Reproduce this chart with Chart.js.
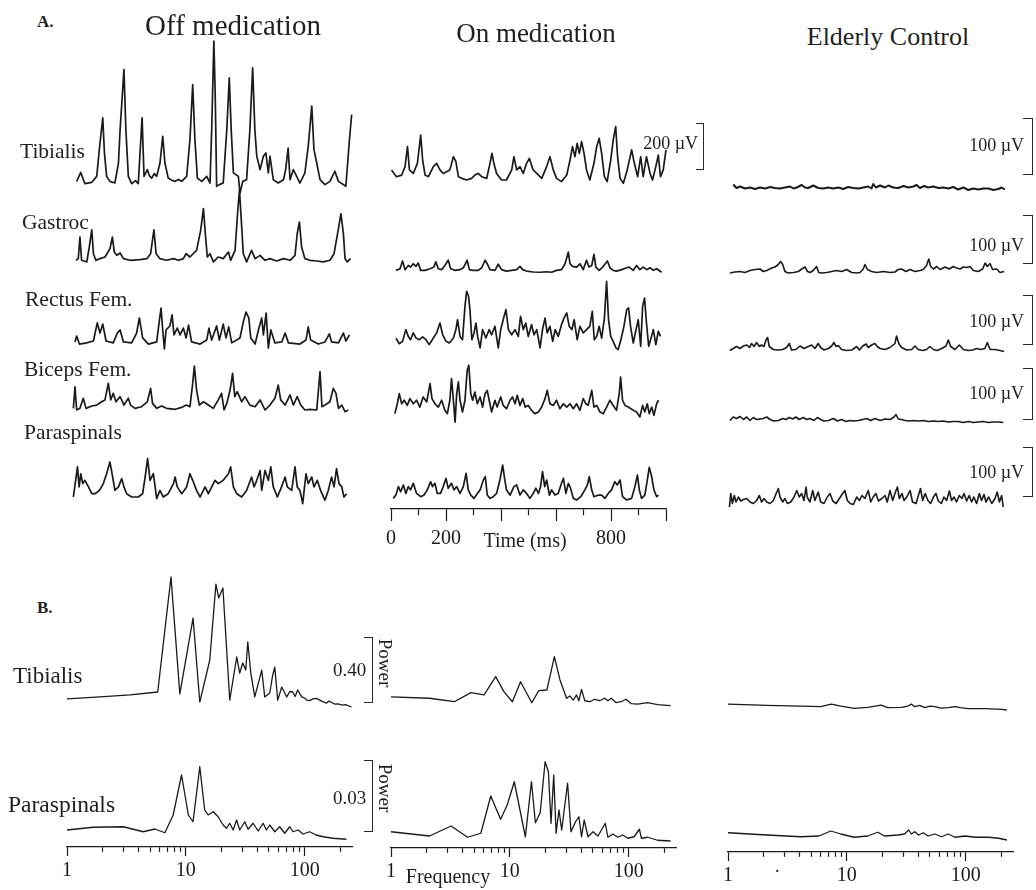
<!DOCTYPE html>
<html>
<head>
<meta charset="utf-8">
<script src="https://cdn.jsdelivr.net/npm/chart.js@4.4.1/dist/chart.umd.min.js"></script>
<style>
  html, body { margin: 0; padding: 0; background: #fff; }
  #fig { position: relative; width: 1036px; height: 890px; overflow: hidden;
         font-family: 'Liberation Serif', 'DejaVu Serif', serif; color: #1f1f1f; }
  #fig canvas { position: absolute; }
  .txt { position: absolute; white-space: nowrap; line-height: 1; }
  .brk { position: absolute; border: 1.3px solid #2a2a2a; border-left: none; box-sizing: border-box; }
</style>
</head>
<body>
<div id="fig"></div>
<script>
// ── DATA ── (time in ms, EMG in µV; frequency in Hz, power in arbitrary units)

const conditions = ['Off medication', 'On medication', 'Elderly Control'];
const muscles = ['Tibialis', 'Gastroc', 'Rectus Fem.', 'Biceps Fem.', 'Paraspinals'];
const spectrumMuscles = ['Tibialis', 'Paraspinals'];

const timeTicksMs = [0, 100, 200, 300, 400, 500, 600, 700, 800, 900, 1000];
const timeMajorMs = [0, 200, 400, 600, 800, 1000];
const timeTickLabels = ['0', '', '200', '', '', '', '', '', '800', '', ''];

const freqTicksHz = [1, 2, 3, 4, 5, 6, 7, 8, 9, 10, 20, 30, 40, 50, 60, 70, 80, 90, 100, 200];
const freqMajorHz = [1, 10, 100];
const freqTickLabels = ['1', '', '', '', '', '', '', '', '', '10', '', '', '', '', '', '', '', '', '100', ''];

// Off medication (ms, µV)
const offTibialis = [[6,7],[21,45],[36,-3],[61,3],[79,28],[89,149],[101,277],[107,128],[115,28],[127,7],[145,0],[158,85],[164,227],[178,483],[185,227],[194,28],[206,-3],[220,10],[230,-3],[244,277],[251,28],[263,57],[271,30],[279,21],[288,40],[297,28],[309,85],[319,199],[327,85],[339,21],[352,12],[364,7],[376,15],[388,7],[406,28],[418,185],[428,419],[436,185],[445,21],[461,7],[479,28],[491,0],[497,227],[505,604],[510,369],[515,-14],[525,-7],[539,0],[552,227],[561,447],[568,227],[576,43],[594,28],[600,-43],[610,7],[624,14],[636,227],[646,490],[654,227],[661,114],[673,57],[685,114],[694,128],[703,43],[709,114],[721,14],[739,0],[758,14],[766,57],[775,149],[782,14],[794,57],[806,28],[818,0],[836,43],[848,156],[861,327],[869,142],[879,85],[891,14],[909,-7],[927,7],[945,50],[958,7],[985,-14],[998,185],[1006,291],[1010,156]];
const offGastroc = [[4,3],[12,10],[18,102],[24,3],[43,-4],[52,60],[61,133],[67,31],[76,3],[91,10],[109,17],[127,52],[136,102],[143,38],[152,24],[164,34],[176,10],[200,3],[236,6],[261,10],[275,31],[287,133],[295,31],[309,10],[333,3],[358,10],[376,3],[394,10],[404,31],[418,17],[442,45],[457,130],[467,223],[474,116],[481,17],[491,31],[503,-4],[521,17],[539,10],[558,38],[566,3],[582,45],[592,216],[598,301],[604,187],[612,31],[624,-4],[642,45],[655,10],[673,24],[691,3],[709,10],[733,0],[758,10],[782,3],[800,24],[808,116],[816,166],[824,60],[836,10],[854,3],[879,0],[903,-4],[927,3],[942,31],[958,138],[967,201],[976,116],[982,10],[990,-4],[1002,10]];
const offRectusFem = [[0,13],[6,38],[16,4],[42,9],[67,17],[81,94],[91,51],[101,89],[113,17],[139,9],[154,51],[164,64],[176,13],[206,9],[224,51],[234,115],[246,30],[267,4],[297,13],[307,106],[313,157],[319,64],[325,-17],[331,64],[345,81],[353,128],[360,43],[372,72],[382,43],[394,72],[404,30],[413,85],[424,13],[455,4],[479,21],[487,72],[497,21],[515,81],[525,21],[539,89],[549,30],[559,77],[570,9],[600,30],[612,98],[622,140],[632,115],[639,30],[655,4],[667,64],[679,115],[685,43],[695,136],[703,-13],[712,64],[727,9],[752,13],[764,51],[776,9],[818,4],[840,21],[848,77],[857,21],[885,4],[909,13],[925,47],[933,13],[958,9],[976,51],[985,17],[998,43]];
const offBicepsFem = [[-6,7],[0,99],[6,0],[18,7],[30,50],[40,7],[61,17],[79,21],[97,35],[109,43],[121,113],[130,43],[139,71],[149,35],[164,57],[178,21],[194,50],[202,21],[218,7],[242,14],[263,35],[275,92],[282,28],[297,7],[315,17],[333,7],[364,3],[388,11],[404,21],[418,14],[428,113],[434,187],[442,85],[452,21],[467,35],[485,21],[503,7],[521,43],[533,71],[542,0],[552,28],[564,85],[573,156],[581,57],[590,78],[606,35],[618,57],[636,21],[655,14],[673,43],[691,0],[709,21],[727,50],[739,106],[748,43],[764,21],[782,64],[794,21],[808,57],[821,21],[836,0],[854,3],[879,0],[891,163],[898,14],[909,21],[927,35],[939,92],[949,71],[958,7],[970,21],[982,-7],[994,0]];
const offParaspinals = [[-6,0],[4,85],[9,128],[15,43],[21,99],[28,57],[36,71],[49,43],[61,14],[73,14],[89,28],[103,57],[115,99],[127,149],[137,85],[145,28],[158,43],[170,78],[178,43],[188,14],[206,0],[230,0],[246,14],[255,85],[264,163],[273,71],[285,99],[297,-7],[309,28],[321,0],[339,14],[358,57],[364,85],[372,43],[388,14],[406,43],[418,99],[428,71],[442,28],[455,0],[473,43],[485,14],[497,43],[509,71],[521,57],[539,71],[558,99],[566,128],[576,43],[588,14],[606,0],[624,28],[642,85],[651,43],[661,71],[673,113],[679,28],[691,113],[703,71],[712,128],[721,43],[736,0],[751,43],[764,85],[772,43],[788,28],[800,128],[808,43],[818,28],[828,-28],[840,99],[848,57],[861,85],[869,43],[881,71],[893,28],[909,-14],[921,28],[933,85],[942,43],[951,121],[960,57],[970,43],[978,0],[988,14]];

// On medication (ms, µV)
const onTibialis = [[2,43],[11,28],[20,14],[39,21],[51,57],[60,142],[67,43],[81,28],[96,71],[108,191],[115,85],[124,21],[136,14],[154,57],[166,71],[178,43],[190,28],[214,43],[227,99],[236,78],[245,14],[257,7],[275,0],[293,7],[305,21],[317,28],[330,14],[348,7],[360,71],[367,113],[374,71],[384,28],[402,0],[420,0],[439,43],[447,99],[457,43],[469,57],[481,28],[493,71],[503,92],[517,43],[530,28],[548,7],[566,57],[578,99],[590,43],[602,7],[620,-7],[639,21],[651,85],[660,142],[669,99],[677,156],[685,113],[693,163],[702,113],[711,43],[723,0],[738,71],[748,142],[757,177],[766,113],[776,14],[786,-7],[799,85],[808,170],[817,227],[824,99],[833,7],[845,-14],[859,43],[875,128],[885,71],[897,14],[908,99],[917,14],[929,99],[942,28],[951,0],[963,57],[972,106],[980,14],[990,43],[1000,128],[1005,28]];
const onGastroc = [[18,7],[33,14],[42,47],[51,10],[63,28],[71,21],[81,35],[91,24],[99,38],[108,7],[124,7],[142,14],[156,21],[163,43],[172,14],[184,10],[196,28],[208,50],[217,14],[233,7],[251,10],[263,18],[277,50],[285,10],[299,7],[317,7],[330,18],[342,50],[350,35],[360,10],[378,7],[390,33],[402,10],[420,4],[439,7],[457,10],[469,24],[479,10],[493,4],[517,0],[542,-1],[566,1],[584,-1],[602,7],[620,10],[633,35],[645,85],[651,35],[660,24],[675,21],[687,35],[699,10],[711,50],[720,21],[730,28],[738,75],[745,21],[757,7],[770,21],[787,47],[796,18],[808,7],[820,4],[839,10],[857,18],[866,21],[881,7],[893,28],[905,10],[917,21],[930,10],[942,18],[954,7],[966,14],[984,-1]];
const onRectusFem = [[18,21],[30,-3],[42,7],[54,57],[63,28],[71,14],[81,43],[91,21],[103,14],[115,26],[127,14],[139,-7],[154,21],[166,43],[178,85],[188,35],[200,7],[212,0],[227,21],[236,57],[242,99],[251,28],[260,14],[269,156],[275,220],[282,199],[287,142],[294,14],[302,43],[309,85],[315,28],[324,-21],[333,57],[345,21],[357,57],[366,35],[378,71],[390,-21],[399,57],[411,113],[418,142],[427,57],[439,35],[451,57],[463,28],[471,113],[481,57],[490,85],[499,28],[511,78],[520,35],[530,57],[542,-21],[551,57],[560,106],[568,43],[578,71],[588,7],[597,57],[608,28],[620,78],[629,106],[639,128],[648,71],[658,57],[666,99],[677,14],[687,71],[699,43],[711,57],[723,71],[732,135],[739,14],[748,28],[757,71],[766,21],[776,106],[784,262],[791,99],[799,28],[808,7],[818,-21],[826,-28],[836,14],[847,71],[857,142],[864,149],[871,71],[881,0],[891,57],[899,99],[908,-14],[915,156],[922,191],[929,85],[937,-14],[944,14],[954,57],[963,-7],[972,50],[980,28]];
const onBicepsFem = [[14,-7],[23,35],[30,78],[39,35],[48,50],[59,28],[69,57],[81,35],[93,50],[105,21],[117,64],[130,43],[142,121],[149,57],[160,35],[172,21],[184,50],[196,7],[205,-7],[214,50],[220,142],[226,64],[233,-43],[239,78],[245,128],[251,50],[260,0],[269,50],[277,177],[283,199],[290,78],[297,50],[305,85],[314,35],[324,64],[333,21],[342,78],[350,92],[357,50],[366,0],[378,50],[386,21],[399,64],[408,28],[420,14],[433,50],[442,64],[451,35],[459,71],[469,28],[479,57],[488,21],[499,28],[511,7],[523,-7],[536,0],[548,21],[560,57],[568,92],[578,35],[590,28],[602,50],[614,14],[627,35],[639,21],[651,35],[663,14],[675,35],[687,7],[699,57],[709,35],[717,28],[730,92],[738,21],[748,28],[760,0],[772,-7],[784,21],[796,50],[808,28],[820,7],[830,78],[835,149],[842,50],[851,28],[863,21],[881,7],[893,0],[905,-21],[915,28],[923,0],[932,35],[939,-7],[948,21],[956,-14],[966,35],[973,50]];
const onParaspinals = [[8,7],[18,21],[27,57],[35,35],[45,64],[54,28],[63,57],[71,43],[81,71],[93,28],[108,14],[120,21],[132,43],[144,78],[151,57],[160,71],[168,28],[180,28],[190,57],[200,92],[208,50],[220,71],[229,43],[239,57],[251,28],[263,57],[273,113],[281,43],[290,21],[302,7],[314,28],[324,43],[336,85],[343,99],[350,21],[360,7],[372,14],[384,28],[396,85],[406,149],[414,85],[420,43],[433,21],[447,57],[457,64],[469,21],[481,43],[493,28],[505,7],[517,28],[527,50],[536,28],[544,57],[551,121],[559,57],[566,85],[576,21],[584,43],[596,21],[608,28],[620,71],[627,92],[636,28],[645,71],[653,50],[663,7],[675,0],[690,14],[705,43],[714,64],[721,99],[730,43],[738,14],[754,21],[766,21],[778,7],[790,28],[802,43],[814,78],[823,64],[833,85],[842,14],[857,0],[875,7],[887,57],[896,106],[903,43],[911,7],[923,21],[932,85],[939,139],[948,99],[956,43],[966,14],[973,21]];

// Elderly control (ms, µV)
const eldTibialis = [[19,7],[31,0],[44,3],[62,-1],[80,1],[98,-2],[116,1],[135,-1],[153,2],[171,0],[189,-1],[207,1],[226,3],[238,-1],[250,1],[268,6],[280,1],[292,0],[310,5],[328,0],[347,-1],[365,1],[383,-1],[401,1],[419,-2],[437,2],[456,0],[474,-1],[492,1],[510,3],[522,-1],[528,8],[538,1],[553,5],[571,1],[583,5],[601,1],[619,0],[638,4],[656,1],[674,3],[686,6],[698,0],[713,4],[728,1],[747,3],[765,0],[783,1],[801,-1],[819,2],[837,-3],[856,1],[874,-4],[892,-1],[910,-3],[928,-1],[947,-1],[965,-4],[983,-2],[995,1],[1007,-3]];
const eldGastroc = [[7,0],[25,2],[44,3],[62,1],[80,5],[98,7],[116,8],[128,3],[141,5],[159,10],[171,12],[183,17],[191,23],[199,17],[207,3],[219,0],[238,1],[256,3],[268,8],[280,12],[289,3],[298,1],[310,5],[322,13],[330,1],[341,0],[359,1],[377,3],[395,5],[413,3],[431,7],[450,1],[468,0],[480,1],[492,8],[498,17],[507,7],[522,3],[541,1],[565,3],[589,1],[607,2],[619,7],[631,8],[647,3],[662,7],[680,3],[698,5],[710,7],[722,15],[730,28],[737,13],[747,8],[759,13],[771,7],[789,12],[805,8],[819,13],[831,10],[844,8],[856,12],[868,11],[880,13],[892,5],[910,3],[926,8],[935,20],[943,13],[953,19],[962,7],[977,8],[989,1],[1004,3]];
const eldRectusFem = [[7,-1],[19,3],[31,7],[44,3],[56,8],[68,10],[78,5],[86,13],[95,7],[104,15],[114,7],[122,10],[131,7],[138,20],[144,25],[150,7],[165,1],[183,0],[199,1],[213,5],[223,13],[231,0],[247,1],[262,8],[276,3],[292,7],[304,10],[316,3],[328,13],[337,5],[349,0],[365,3],[377,8],[385,15],[393,7],[401,9],[413,1],[431,-1],[450,0],[468,7],[478,0],[490,8],[502,12],[510,5],[522,10],[534,13],[543,7],[553,3],[571,1],[589,5],[607,13],[613,28],[621,13],[631,5],[650,0],[668,1],[680,8],[692,1],[708,-1],[722,1],[734,7],[747,1],[761,-1],[777,3],[793,8],[801,20],[810,7],[825,1],[841,10],[856,1],[874,-1],[890,0],[904,3],[919,1],[934,3],[943,15],[953,1],[971,1],[989,-1],[1004,-3]];
const eldBicepsFem = [[7,1],[19,8],[31,5],[44,9],[56,3],[68,8],[80,1],[92,7],[104,3],[116,4],[128,5],[141,8],[153,3],[167,0],[183,1],[199,5],[211,3],[223,7],[235,4],[247,8],[259,3],[274,7],[286,3],[298,5],[313,1],[325,7],[337,3],[349,0],[365,1],[383,5],[398,0],[413,3],[429,-1],[444,1],[458,0],[474,1],[490,3],[504,5],[519,1],[535,5],[553,1],[571,4],[589,3],[604,8],[611,13],[619,4],[631,3],[644,1],[659,0],[674,1],[692,0],[710,1],[728,-1],[747,0],[765,-1],[783,0],[801,-2],[819,-1],[837,-1],[856,-3],[874,-1],[892,-3],[910,-2],[928,-1],[947,-3],[965,-2],[983,-2],[1001,-3]];
const eldParaspinals = [[5,0],[10,27],[16,7],[23,23],[29,10],[38,20],[46,12],[56,15],[68,17],[80,10],[92,7],[104,13],[114,23],[122,10],[131,17],[141,10],[153,7],[165,13],[175,27],[183,37],[189,20],[199,10],[207,17],[216,7],[228,10],[240,20],[250,33],[259,20],[268,27],[276,13],[284,40],[288,20],[298,10],[308,33],[316,13],[328,30],[337,10],[349,7],[361,20],[371,27],[381,12],[393,7],[405,17],[417,27],[425,33],[434,13],[444,7],[456,5],[468,20],[478,13],[487,23],[498,17],[510,33],[519,10],[528,20],[538,27],[547,12],[559,17],[571,23],[579,10],[589,33],[599,13],[607,27],[616,40],[623,17],[633,27],[640,13],[650,20],[662,33],[671,10],[684,7],[692,23],[700,37],[708,13],[717,27],[727,13],[737,7],[747,20],[756,27],[765,12],[776,7],[785,20],[795,13],[805,32],[813,13],[822,20],[831,10],[841,23],[851,17],[858,27],[868,12],[877,23],[886,10],[894,20],[904,7],[914,27],[922,13],[931,25],[938,10],[948,20],[959,7],[971,17],[979,30],[987,10],[995,23],[1001,0]];

// Power spectra (Hz, power)
const offTibialisPower = [[1,0.055],[1.9,0.067],[3.4,0.079],[5.8,0.097],[7.5,0.794],[8.9,0.085],[11.5,0.545],[13.1,0.036],[15.9,0.291],[17.9,0.751],[18.9,0.667],[20.5,0.727],[23.4,0.048],[26.8,0.309],[28.4,0.212],[30.1,0.273],[31.9,0.23],[33.2,0.4],[35.2,0.212],[38,0.067],[43.5,0.23],[46.1,0.067],[50.8,0.091],[53.8,0.2],[56,0.248],[59.3,0.048],[64.1,0.127],[70.6,0.067],[75,0.1],[79.3,0.097],[83,0.07],[87.3,0.109],[94.4,0.067],[100,0.06],[104,0.048],[110,0.045],[117,0.055],[125,0.058],[134,0.048],[140,0.04],[153,0.03],[160,0.042],[179,0.024],[190,0.025],[208,0.018],[220,0.02],[248,0.006]];
const offParaspinalsPower = [[1,0.0052],[1.66,0.0063],[2.97,0.0065],[4.38,0.0045],[5.49,0.0056],[6.66,0.0041],[7.82,0.0112],[9.2,0.0272],[10.5,0.0112],[11.5,0.0085],[13.1,0.0305],[14.4,0.0132],[15.4,0.0112],[17,0.0125],[18.7,0.0105],[20.6,0.0072],[22,0.0059],[23.4,0.0079],[25,0.0052],[26.7,0.0092],[28.4,0.0052],[31.3,0.0085],[33.4,0.0055],[36.8,0.0079],[40.6,0.0048],[44.7,0.0079],[47.6,0.0052],[50.8,0.0072],[56,0.0045],[61.6,0.0065],[67.9,0.0039],[74.8,0.0065],[79.8,0.0045],[87.9,0.0052],[96.8,0.0036],[110,0.0045],[125,0.0032],[143,0.0025],[173,0.0019],[224,0.0015]];
const onTibialisPower = [[1,0.068],[2.11,0.059],[3.41,0.038],[4.7,0.093],[6.07,0.079],[7.6,0.19],[8.91,0.099],[10.5,0.038],[12.3,0.159],[15.3,0.032],[17.5,0.105],[20.5,0.109],[23.7,0.311],[26.4,0.17],[30,0.059],[32,0.073],[34.1,0.048],[36.4,0.079],[38.1,0.044],[40.1,0.113],[42.7,0.044],[47,0.038],[51.8,0.053],[57,0.044],[62.7,0.059],[66.8,0.044],[71.2,0.059],[78.4,0.032],[86.3,0.038],[95,0.053],[105,0.026],[119,0.024],[144,0.032],[175,0.02],[225,0.014]];
const onParaspinalsPower = [[1,0.0045],[2.11,0.0028],[3.2,0.0068],[4.41,0.0023],[5.7,0.0039],[6.91,0.0188],[8.36,0.0095],[9.5,0.0152],[10.9,0.0245],[13.5,0.0025],[15.2,0.0245],[16.4,0.0081],[18,0.0121],[19.8,0.0325],[21.1,0.0285],[22.2,0.0079],[23.4,0.0272],[24.5,0.0039],[25.9,0.0132],[27.3,0.0052],[30.6,0.0239],[32.7,0.0045],[35.7,0.0085],[38.1,0.0105],[40.1,0.0025],[42.2,0.0092],[45.5,0.0025],[50.1,0.0045],[55.2,0.0028],[63.5,0.0079],[66.8,0.0023],[73.6,0.0036],[80.9,0.0023],[89.1,0.0032],[98.2,0.0019],[111,0.0025],[123,0.0055],[128,0.0019],[144,0.0023],[175,0.0011],[225,0.0008]];
const eldTibialisPower = [[1,0.042],[2.13,0.034],[4.08,0.03],[6.02,0.026],[7.41,0.042],[8.89,0.03],[11.5,0.016],[15,0.022],[19.4,0.036],[22.1,0.02],[28.7,0.022],[32.7,0.03],[34.9,0.042],[37.2,0.026],[41,0.034],[45.2,0.02],[50,0.03],[55,0.026],[62,0.018],[71.3,0.02],[81.2,0.026],[90,0.02],[105,0.014],[146,0.014],[202,0.01],[222,0.006]];
const eldParaspinalsPower = [[1,0.0041],[2.13,0.0032],[4.08,0.0025],[5.82,0.0028],[7.32,0.0048],[8.89,0.0036],[11.5,0.0023],[15,0.0028],[18.2,0.0043],[20.7,0.0028],[26.9,0.0032],[30.6,0.0036],[33.1,0.0052],[34.9,0.0036],[37.2,0.0045],[40.2,0.0032],[43.8,0.0041],[48.3,0.0028],[55,0.0036],[62.6,0.0025],[71.3,0.0036],[81.2,0.0023],[98.6,0.0028],[120,0.0023],[156,0.0023],[189,0.0019],[222,0.0012]];

// ── LAYOUT ──
const INK = '#1a1a1a';
const PAD = 12;
const UV_PER_PX = 200 / 47;      // off / on columns (200 µV bar)
const UV_PER_PX_ELD = 100 / 50;  // elderly column (100 µV bars)
const TIB_POWER_PER_PX = 0.40 / 66;
const PARA_POWER_PER_PX = 0.03 / 75;
const fig = document.getElementById('fig');

Chart.defaults.font.family = "'Liberation Serif', serif";
Chart.defaults.color = INK;

function axisScale(p) {
  return {
    type: p.log ? 'logarithmic' : 'linear',
    min: p.xMin, max: p.xMax,
    afterBuildTicks: s => { s.ticks = p.ticks.map(v => ({ value: v })); },
    afterFit: s => { s.height = 40; },
    border: { display: true, color: INK, width: 1.3 },
    grid: {
      drawOnChartArea: false, drawTicks: true, tickLength: p.tickLen,
      tickColor: INK, tickWidth: 1.2,
      tickBorderDash: ctx => (ctx.tick && p.majors.includes(ctx.tick.value)) ? [] : [p.tickLen / 2, 60]
    },
    ticks: {
      autoSkip: false, maxRotation: 0, padding: p.tickPad, color: INK,
      font: { size: 20 },
      callback: (v, i) => p.labels[i]
    }
  };
}

function panel(p) {
  const axisH = p.axis ? 40 : 0;
  const cv = document.createElement('canvas');
  cv.width = p.w + PAD * 2;
  cv.height = p.h + axisH;
  cv.style.left = (p.x - PAD) + 'px';
  cv.style.top = p.y + 'px';
  fig.appendChild(cv);
  const x = p.axis ? axisScale(Object.assign({}, p, p.axis))
                   : { type: p.log ? 'logarithmic' : 'linear', display: false, min: p.xMin, max: p.xMax };
  new Chart(cv, {
    type: 'line',
    data: { datasets: [{
      data: p.data.map(([t, v]) => ({ x: t, y: v })),
      borderColor: INK, borderWidth: p.lw, pointRadius: 0, tension: 0, clip: false,
      borderJoinStyle: 'round'
    }] },
    options: {
      responsive: false, animation: false, events: [],
      layout: { padding: { left: PAD, right: PAD, top: 0, bottom: 0 } },
      plugins: { legend: { display: false }, tooltip: { enabled: false } },
      scales: { x, y: { display: false, min: p.yMin, max: p.yMax } }
    }
  });
}

// EMG traces: [data, column left (0 ms), baseline y, µV/px, px above, px below, line width, axis]
const timeAxis = { ticks: timeTicksMs, majors: timeMajorMs, labels: timeTickLabels, tickLen: 12, tickPad: 6 };
const emgRows = [
  [offTibialis, 75, 183, UV_PER_PX, 150, 25, 1.7], [offGastroc, 75, 261, UV_PER_PX, 150, 25, 1.7],
  [offRectusFem, 75, 345, UV_PER_PX, 150, 25, 1.7], [offBicepsFem, 75, 410, UV_PER_PX, 150, 25, 1.7],
  [offParaspinals, 75, 497, UV_PER_PX, 150, 25, 1.7],
  [onTibialis, 391, 180, UV_PER_PX, 150, 25, 1.7], [onGastroc, 391, 272, UV_PER_PX, 150, 25, 1.7],
  [onRectusFem, 391, 343, UV_PER_PX, 150, 25, 1.7], [onBicepsFem, 391, 412, UV_PER_PX, 150, 25, 1.7],
  [onParaspinals, 391, 500, UV_PER_PX, 150, 9, 1.7, timeAxis],
  [eldTibialis, 728, 188, UV_PER_PX_ELD, 45, 15, 2], [eldGastroc, 728, 273, UV_PER_PX_ELD, 45, 15, 1.6],
  [eldRectusFem, 728, 350, UV_PER_PX_ELD, 45, 15, 1.6], [eldBicepsFem, 728, 421, UV_PER_PX_ELD, 45, 15, 1.6],
  [eldParaspinals, 728, 507, UV_PER_PX_ELD, 45, 15, 1.6]
];
emgRows.forEach(([data, x0, base, k, up, down, lw, axis]) => {
  panel({ data, x: x0, w: 275, y: base - up, h: up + down, xMin: 0, xMax: 1000,
          yMin: -down * k, yMax: up * k, lw, axis });
});

// Spectra: [data, column left (1 Hz), zero y, power/px, px above, px below, axis]
const freqAxis = { ticks: freqTicksHz, majors: freqMajorHz, labels: freqTickLabels, tickLen: 9, tickPad: 3 };
const specRows = [
  [offTibialisPower, 67, 708, TIB_POWER_PER_PX, 140, 10],
  [onTibialisPower, 391, 708, TIB_POWER_PER_PX, 140, 10],
  [eldTibialisPower, 728, 711, TIB_POWER_PER_PX, 140, 10],
  [offParaspinalsPower, 67, 843, PARA_POWER_PER_PX, 100, 4, freqAxis],
  [onParaspinalsPower, 391, 843, PARA_POWER_PER_PX, 100, 5, freqAxis],
  [eldParaspinalsPower, 728, 843, PARA_POWER_PER_PX, 100, 9, freqAxis]
];
specRows.forEach(([data, x0, zero, k, up, down, axis]) => {
  panel({ data, x: x0, w: 285, y: zero - up, h: up + down, xMin: 1, xMax: 250, log: true,
          yMin: -down * k, yMax: up * k, lw: 1.3, axis });
});

// ── TEXT & SCALE BARS ──
function txt(s, x, y, size, opt = {}) {
  const d = document.createElement('div');
  d.className = 'txt';
  d.textContent = s;
  d.style.left = x + 'px';
  d.style.top = y + 'px';
  d.style.fontSize = size + 'px';
  if (opt.bold) d.style.fontWeight = 'bold';
  const ax = opt.align === 'center' ? '-50%' : opt.align === 'right' ? '-100%' : '0';
  d.style.transform = `translate(${ax}, -50%)` + (opt.rotate ? ` rotate(${opt.rotate}deg)` : '');
  fig.appendChild(d);
}
function bracket(right, top, bottom, w) {
  const d = document.createElement('div');
  d.className = 'brk';
  d.style.left = (right - w) + 'px';
  d.style.top = top + 'px';
  d.style.width = w + 'px';
  d.style.height = (bottom - top) + 'px';
  fig.appendChild(d);
}

txt('A.', 37, 21, 17, { bold: true });
txt(conditions[0], 233, 25, 29, { align: 'center' });
txt(conditions[1], 536, 33, 27, { align: 'center' });
txt(conditions[2], 888, 37, 26, { align: 'center' });

[[20, 152], [22, 223], [25, 300], [24, 370], [24, 433]].forEach(([x, y], i) => txt(muscles[i], x, y, 21.5));

txt('200 \u00b5V', 698, 143, 18, { align: 'right' });
bracket(704, 123, 170, 8);
[[145, 118, 175], [245, 215, 264], [321, 295, 345], [393, 368, 420], [472, 447, 497]].forEach(([ty, b0, b1]) => {
  txt('100 \u00b5V', 1024, ty, 18, { align: 'right' });
  bracket(1033, b0, b1, 10);
});
txt('Time (ms)', 525, 540, 20, { align: 'center' });

txt('B.', 37, 607, 17, { bold: true });
txt(spectrumMuscles[0], 13, 675, 23);
txt(spectrumMuscles[1], 8, 805, 23.5);
txt('0.40', 333, 669, 19);
txt('0.03', 333, 797, 19);
bracket(373, 637, 703, 9);
bracket(373, 760, 832, 9);
txt('Power', 385, 663, 19, { align: 'center', rotate: 90 });
txt('Power', 385, 788, 19, { align: 'center', rotate: 90 });
txt('Frequency', 448, 876, 20, { align: 'center' });
txt('.', 775, 866, 18);
</script>
</body>
</html>
